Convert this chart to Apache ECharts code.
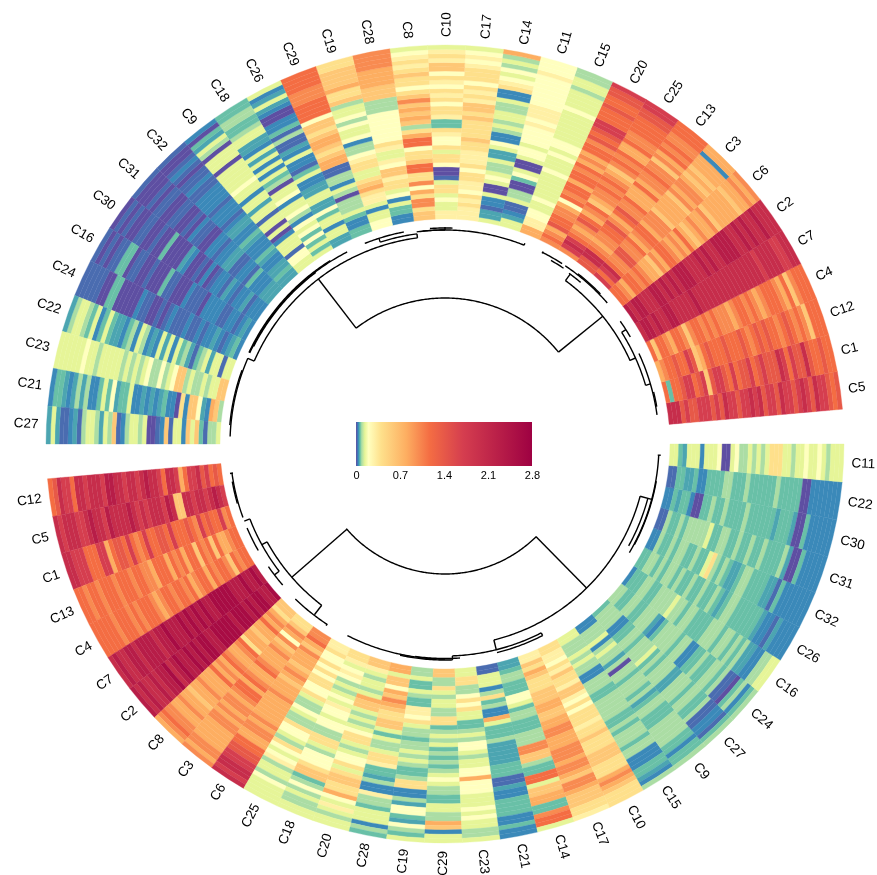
<!DOCTYPE html>
<html><head><meta charset="utf-8">
<script src="https://cdn.jsdelivr.net/npm/echarts@6/dist/echarts.min.js"></script>
<style>html,body{margin:0;padding:0;background:#fff}#c{width:877px;height:875px}</style>
</head><body><div id="c"></div>
<script>
// Cell levels: each letter is one estimated value, see levelValues.
const levelKeys = "abcdefghijklmnopqrs";
const levelValues = [0,0.02,0.035,0.05,0.065,0.09,0.14,0.2,0.3,0.4,0.6,0.8,1.0,1.17,1.4,1.7,2.0,2.3,2.6];
const upperColumns = ["C5","C1","C12","C4","C7","C2","C6","C3","C13","C25","C20","C15","C11","C14","C17","C10","C8","C28","C19","C29","C26","C18","C9","C32","C31","C30","C16","C24","C22","C23","C21","C27"];
const lowerColumns = ["C12","C5","C1","C13","C4","C7","C2","C8","C3","C6","C25","C18","C20","C28","C19","C29","C23","C21","C14","C17","C10","C15","C9","C27","C24","C16","C26","C32","C31","C30","C22","C11"];
// One string per column, inner ring first (groups of ten rings).
const upperCells = [
"qqqopooppp opoqppoppq pqoppoqppo pqpoqppono",
"nennoppnop kopponpnoo pnopoooqpn pooqonnonn",
"lmnnonnpok lnonnnonnn onmnononnm nonmnmknnn",
"nknnmlnnmk mnnmnmnmmm lmnnmnmlmn nnmlnkmnnn",
"qrrqrqqrrq qqqqrqqqqq qqqqqqqqqq qpqqqqppqq",
"rqrrqqqrrq rqrqrrrqqq rqrqqrrrrq qrqrqqrqqq",
"nnmlnnmnml lkmlnnmlml nlklmllmkl llllkllmlm",
"pnpqnmmoom mnlmnnlmmm kllllkmlmm lklklllcll",
"ooqqnmlmmn nomlnommnl llnlmmnmmk mlnmnmmnnn",
"mpqpnmlmon lmnklmmnmn mlkmnmnlln mmnnnnoopp",
"mnmlonnmml hnmnnlnnmn lmlnnmonop pnnnonnoop",
"lliihhgghg ggggghggghg hhgggggggh ggggfggff",
"ggdcbbgffa aehgaaghhg hhhhihiiih hhhhhhihhh",
"gddbccgaag hgffgddghc cfgfggffgc cjihghfgfl",
"iiijijhiij jhjiiijjkj jjjkjkkiji jhjjjihihg",
"iigghgjjgb aahjjgjhhi jeeijjhjij hijhkkijig",
"kkjmmjlhmj jnnkjjhnnl jfklklkmkj hjjkjijihg",
"cceegchgjj ikkhiggijh hhhhhhfffk kkllllmmmm",
"hhggcgiijl kjggjjihff chgghfhggf kjjlkkkkjj",
"eeccegfffa fgcffbbllk jkllkjkkhn nnnmmmnnnn",
"ddggcggehd dggddccgeb ccgcdbbfbe ccaacdgdcg",
"gegehehghc fhggchggaf egcgcgdgcd dggfeeffee",
"gghhbgggca gaggbggdgg cgghggggga gggafgdeac",
"ddeddccdec ccdeccddcb cccbccccbb cbbabcbaab",
"dddcccebcc bbddccbcca abbcabaabb aabbabaaab",
"cccbdccbcd bccbacabaa cdaaaaeaab aabbaababa",
"cdcbccbbcc ccabbbcaaa bbeaaabaab baeebbabab",
"cedcbcdccb cbbcbbbcba baabbcaaaa aeeaabbbbb",
"ggbggdgfeb dfegcgdgcd cfgcfecdde gecgefggfd",
"kkggfgffgf kkhgfhffhg fgfgfggggg fgghgggggg",
"fklcdhkkcj accedcdcdc cgeedhegec cfdfdcdeec",
"gffbekgkcg gbkcbaagfg gfcbkfgdfg gfbdcbbdgd"];
const lowerCells = [
"nonpoqppnl pqqnpqqrqp qqpqqrrpqq qpqqnppqon",
"pqrqpqqpqq kkqrpqqqpq pqrqqqqrpq qrqppqqqpq",
"nmpnnonpmn onnnpnoonn pnmnpnoonl ppnnnpppqq",
"nnmllnknmn knnlnmnlnn nlmmnnmnnn mnnnmnnmnn",
"nnmnkmnnmn lnnmlnmnnm nnmlmnnnmn mnnnmnnnnn",
"rsrrsrrrss sssrrsrsrs rsrrrsrrqr rrrqrrqqrq",
"srrssrsrss srsssssrrs srsrsrrsrq srrqrqqrqr",
"kkjlmlnllk lljnmllmnl mlnlllmllk llmllmmnml",
"jjkmlhmklm lllmnllmnl nnmlmmlmlm mlllllmmlm",
"mmnlkmlllk lmlklllmll llllmlmmll nnooppqqpq",
"iijhhjhjhj jhhjgffhgf fjhhgfjhgh ifggfhgggg",
"jjighihfgf ghgihhghhf fjjgfhhhjk kefhfgffgg",
"kkigfggfgl kkgfgfghjj gfghhjgjkk jjlhgigfgg",
"llgkkhlkml kjjkkgegff gjjieedfcc iffegggcfe",
"ffgeegfeei ihjgffeffg fgfeefjjcc fdhhedhfeg",
"kkffjgfggf fjjefgfgef efefghgffe eggfflkcgg",
"ggjjffhjhj ggeefgfhhg fgghhlhhhg gghghggffg",
"bbgggcfjef cclgeeefdd dddeeebbdc ceeeeccecc",
"ddeffeeehh geffeeefff mmkkfeenng kklleemnng",
"iikjlkjjjk kkllkkllmm lllmmmlmml kmmlkkkjji",
"jjiihjikjj ikkihjhjjj ijjkjjjkkk jjjlmlkjjj",
"ggfffgfgff ccfffeefff ffeefefffe ffccceedcf",
"ccfffgcfgf fdfaffefff efdeffeeef ffffeeceef",
"effffcceef fefffgefef ffddfffeff eefbbccbef",
"ffeeffeeff fdceffffef fcceefeeff efbbaefcef",
"ceeeffeeff ffgffeffee eefffeffef efddccffgg",
"eeffefeffe feefeefeef edeffeeeee edccbdcccc",
"ccfeefeffe efeegjfefe ddeffeeeed dbeccccccc",
"bbfeefefff ffgeeffeef eefeefeeee fdaaeccccc",
"ccedeecaae efeefeeeef eeeeeedeee daaecccccc",
"bbeeddecce eeeffeeefe eeeeefeeee eaaccccccc",
"ggedgggcgg ghaaghffgf gfgjjjggfg ghgghgfggg"];
// Colour scale stops: value, colour.
const scaleValues = [0,0.02,0.035,0.065,0.09,0.14,0.2,0.4,0.8,1.17,1.7,2.8];
const scaleColors = ["#5E4FA2","#4a6cb0","#3288BD","#66C2A5","#ABDDA4","#E6F598","#FFFFBF","#FEE08B","#FDAE61","#F46D43","#D53E4F","#9E0142"];
const legendTicks = [0,0.7,1.4,2.1,2.8];
const radiusInner = 225, radiusOuter = 399, sectorSpan = 175;
const upperStart = 5, lowerStart = 185;
// Dendrogram: arcs [radius, fromAngle, toAngle], spokes [angle, fromRadius, toRadius].
const dendroArcs = [
[146,39,127.5],[208,97.6,156.5],[203,24.2,53.6],
[215.5,117,155],[216.3,122,155],[214.8,127,153],[215,156.5,178],[216,160,175],[214,97.6,90],
[212,97.6,107.8],[216,101,111.8],[214,68.3,96],[216,88,94],
[211,50,54],[215,41,56],[216,44,52],[215,57,63],[212,56,60],
[209,16.3,32.3],[214,30,35],[214,7.8,25],[215,10,14],
[130,220.6,314.7],[203,208.8,232.6],[209,201,217.5],[215,187.8,200],[216,190,196],
[215,203,209.7],[215,214.8,221],[215.5,226,236.8],
[202,284,345],[214,329.5,357],[210,331,345],[214.5,332,350],
[212,272,297],[215,243,270],[216,258,272],[214.5,262,274],[215,284,297]];
const dendroSpokes = [
[39,146,203],[127.5,146,208],[156.5,208,215],[97.6,208,212],[107.8,212,216],[53.6,203,211],
[24.3,203,209],[32.3,209,214],[16.3,209,214],[90,214,217],[63,214,216],[68.3,214,216],
[221,130,203],[314.5,130,202],[208.8,203,209],[201,209,215],[217.5,209,215],[232.6,203,215],[187.8,214,217],
[345,202,214],[284,202,212],[272,212,216],[297,212,215],[357,213,216],[236.8,215,217]];

const dense = [];
for (let i = 0; i <= 280; i++) {
  const v = i / 100; let k = 0;
  while (k < scaleValues.length - 2 && v > scaleValues[k + 1]) k++;
  const t = (v - scaleValues[k]) / (scaleValues[k + 1] - scaleValues[k]);
  dense.push(echarts.color.lerp(Math.min(1, t), [scaleColors[k], scaleColors[k + 1]]));
}
const cellData = [], labelData = [];
function addSector(cols, cells, start) {
  const w = sectorSpan / cols.length;
  cols.forEach((name, c) => {
    const s = cells[c].replace(/ /g, ''), h = (radiusOuter - radiusInner) / s.length;
    for (let i = 0; i < s.length; i++) {
      cellData.push([radiusInner + i * h, start + c * w, levelValues[levelKeys.indexOf(s[i])], radiusInner + (i + 1) * h, start + (c + 1) * w]);
    }
    labelData.push([407, start + (c + 0.5) * w, name]);
  });
}
addSector(upperColumns, upperCells, upperStart);
addSector(lowerColumns, lowerCells, lowerStart);

const chart = echarts.init(document.getElementById('c'), null, {renderer: 'canvas'});
function polyArc(api, r, a0, a1, lw) {
  const pts = [], n = Math.max(2, Math.ceil(Math.abs(a1 - a0) * 2));
  for (let i = 0; i <= n; i++) pts.push(api.coord([r, a0 + (a1 - a0) * i / n]));
  return {type: 'polyline', shape: {points: pts}, style: {stroke: '#000', fill: null, lineWidth: lw}};
}
chart.setOption({
  animation: false, backgroundColor: '#fff',
  polar: {center: [445, 444], radius: [0, 399]},
  radiusAxis: {type: 'value', min: 0, max: 399, show: false},
  angleAxis: {type: 'value', min: 0, max: 360, startAngle: 0, clockwise: false, show: false},
  visualMap: {type: 'continuous', show: false, min: 0, max: 2.8, seriesIndex: 0, dimension: 2, inRange: {color: dense}},
  tooltip: {show: false},
  series: [
    {type: 'custom', coordinateSystem: 'polar', data: cellData, clip: false, silent: true,
     encode: {radius: 0, angle: 1},
     renderItem(p, api) {
       const cs = p.coordSys, r0 = api.value(0), a0 = api.value(1), r1 = api.value(3), a1 = api.value(4);
       const q0 = api.coord([r0, a0]), q1 = api.coord([r1, a1]);
       const col = api.visual('color');
       return {type: 'sector', shape: {cx: cs.cx, cy: cs.cy,
         r0: Math.hypot(q0[0] - cs.cx, q0[1] - cs.cy), r: Math.hypot(q1[0] - cs.cx, q1[1] - cs.cy),
         startAngle: -a0 * Math.PI / 180, endAngle: -a1 * Math.PI / 180, clockwise: false},
         style: {fill: col, stroke: col, lineWidth: 0.35}};
     }},
    {type: 'custom', coordinateSystem: 'polar', data: labelData.map(d => [d[0], d[1]]), clip: false, silent: true,
     encode: {radius: 0, angle: 1},
     renderItem(p, api) {
       const r = api.value(0), a = api.value(1), q = api.coord([r, a]);
       const right = a < 90 || a >= 270;
       const rot = (a >= 270 ? a - 360 : right ? a : a - 180) * Math.PI / 180;
       return {type: 'text', x: q[0], y: q[1], rotation: rot,
         style: {text: labelData[p.dataIndex][2], fontFamily: 'Liberation Sans', fontSize: 13.5, fill: '#000',
           textAlign: right ? 'left' : 'right', textVerticalAlign: 'middle'}};
     }},
    {type: 'custom', coordinateSystem: 'polar', data: dendroArcs, clip: false, silent: true,
     encode: {radius: 0, angle: 1},
     renderItem(p, api) { return polyArc(api, api.value(0), api.value(1), api.value(2), 1.4); }},
    {type: 'custom', coordinateSystem: 'polar', data: dendroSpokes.map(s => [s[1], s[0], s[2]]), clip: false, silent: true,
     encode: {radius: 0, angle: 1},
     renderItem(p, api) {
       const a = api.value(1), u = api.coord([api.value(0), a]), v = api.coord([api.value(2), a]);
       return {type: 'line', shape: {x1: u[0], y1: u[1], x2: v[0], y2: v[1]}, style: {stroke: '#000', lineWidth: 1.4}};
     }}
  ],
  graphic: [{type: 'rect', shape: {x: 356, y: 422, width: 176, height: 44},
      style: {fill: new echarts.graphic.LinearGradient(0, 0, 1, 0,
        scaleValues.map((v, i) => ({offset: v / 2.8, color: scaleColors[i]})))}}]
    .concat(legendTicks.map(v => ({type: 'text', x: 356.5 + v / 2.8 * 176, y: 475.5,
      style: {text: String(v), fontFamily: 'Liberation Sans', fontSize: 11, fill: '#000', textAlign: 'center', textVerticalAlign: 'middle'}})))
});
</script></body></html>
